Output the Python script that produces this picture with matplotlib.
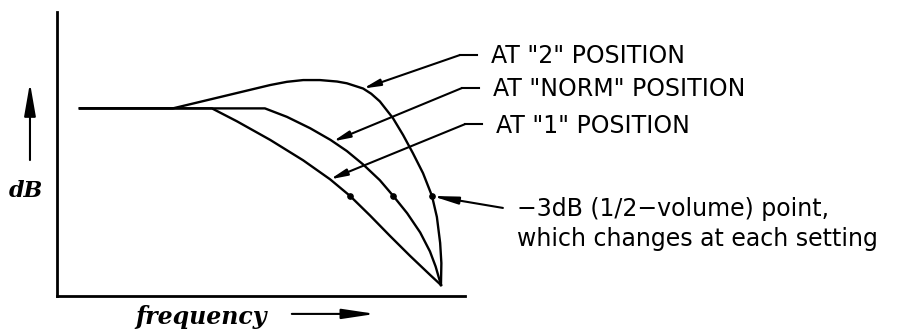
import matplotlib.pyplot as plt

# Frequency-response curves
# (x = frequency in arbitrary units, y = level in dB relative to the flat part)
freq_pos2 = [5.5, 28.3, 52.2, 56.3, 60.3, 64.4, 68.6, 71.0, 75.0, 77.0, 79.1, 82.3,
             84.8, 87.2, 89.7, 91.9, 93.1, 93.9, 94.2, 94.1]
db_pos2 = [0, 0, 0.80, 0.91, 0.97, 0.97, 0.92, 0.86, 0.68, 0.50, 0.24, -0.33,
           -0.91, -1.53, -2.22, -3.0, -3.72, -4.61, -5.30, -6.05]

freq_norm = [5.5, 50.9, 56.3, 62.0, 67.0, 71.0, 75.0, 79.1, 82.4, 85.8, 89.0, 91.4, 92.8, 94.1]
db_norm = [0, 0, -0.29, -0.68, -1.08, -1.46, -1.92, -2.46, -3.0, -3.59, -4.25, -4.90, -5.42, -6.05]

freq_pos1 = [5.5, 37.9, 44.0, 52.2, 60.3, 66.9, 71.8, 76.7, 81.6, 86.5, 91.4, 94.1]
db_pos1 = [0, 0, -0.44, -1.08, -1.78, -2.43, -3.0, -3.67, -4.37, -5.05, -5.70, -6.05]

# -3 dB points on each curve (pos1, norm, pos2)
half_freq = [71.8, 82.4, 91.9]
half_db = [-3, -3, -3]

labels = ['AT "2" POSITION', 'AT "NORM" POSITION', 'AT "1" POSITION']
note_lines = ['\u22123dB (1/2\u2212volume) point,', 'which changes at each setting']

fig = plt.figure(figsize=(9.01, 3.30), dpi=100)
ax = fig.add_axes([0.0638, 0.1045, 0.4523, 0.859])
ax.set_xlim(0, 100)
ax.set_ylim(-6.41, 3.30)
ax.spines['top'].set_visible(False)
ax.spines['right'].set_visible(False)
ax.spines['left'].set_linewidth(2.0)
ax.spines['bottom'].set_linewidth(2.0)
ax.set_xticks([])
ax.set_yticks([])
ax.patch.set_visible(False)

# curves
for fx, fy in [(freq_pos2, db_pos2), (freq_norm, db_norm), (freq_pos1, db_pos1)]:
    ax.plot(fx, fy, color='black', lw=1.7, solid_joinstyle='round', clip_on=False)
ax.plot(half_freq, half_db, 'o', color='black', ms=3.8, clip_on=False)

# leader lines with arrows
head = dict(arrowstyle='-|>,head_length=1.0,head_width=0.2', color='black', lw=1.5,
            mutation_scale=10, shrinkA=0, shrinkB=0)
tips = [(freq_pos2[8], db_pos2[8]), (67.6, -1.13), (freq_pos1[5], db_pos1[5])]
knees = [(98.8, 1.83), (99.3, 0.70), (100.0, -0.54)]
for text, (tx, ty), (kx, ky) in zip(labels, tips, knees):
    ax.annotate('', xy=(tx, ty), xytext=(kx, ky), arrowprops=head, annotation_clip=False)
    ax.plot([kx, kx + 4.2], [ky, ky], color='black', lw=1.5, clip_on=False)
    ax.text(kx + 7.6, ky - 0.05, text, fontsize=17, va='center', ha='left')

# -3 dB note
ax.annotate('', xy=(half_freq[2], half_db[2]), xytext=(109.3, -3.41),
            arrowprops=dict(head, arrowstyle='-|>,head_length=1.5,head_width=0.22'),
            annotation_clip=False)
ax.text(112.8, -3.45, note_lines[0], fontsize=17, va='center', ha='left')
ax.text(112.8, -4.48, note_lines[1], fontsize=17, va='center', ha='left')

# axis labels with arrows
ax.annotate('', xy=(-6.75, 0.87), xytext=(-6.75, -1.77),
            arrowprops=dict(head, arrowstyle='-|>,head_length=2.0,head_width=0.35'),
            annotation_clip=False)
ax.text(-7.73, -2.83, 'dB', fontsize=16, fontweight='bold', fontstyle='italic',
        family='DejaVu Serif', ha='center', va='center')
ax.annotate('', xy=(78.0, -7.04), xytext=(57.5, -7.04),
            arrowprops=dict(head, arrowstyle='-|>,head_length=2.0,head_width=0.3'),
            annotation_clip=False)
ax.text(35.2, -7.14, 'frequency', fontsize=17, fontweight='bold', fontstyle='italic',
        family='DejaVu Serif', ha='center', va='center')

fig.savefig('out.png', dpi=100)
